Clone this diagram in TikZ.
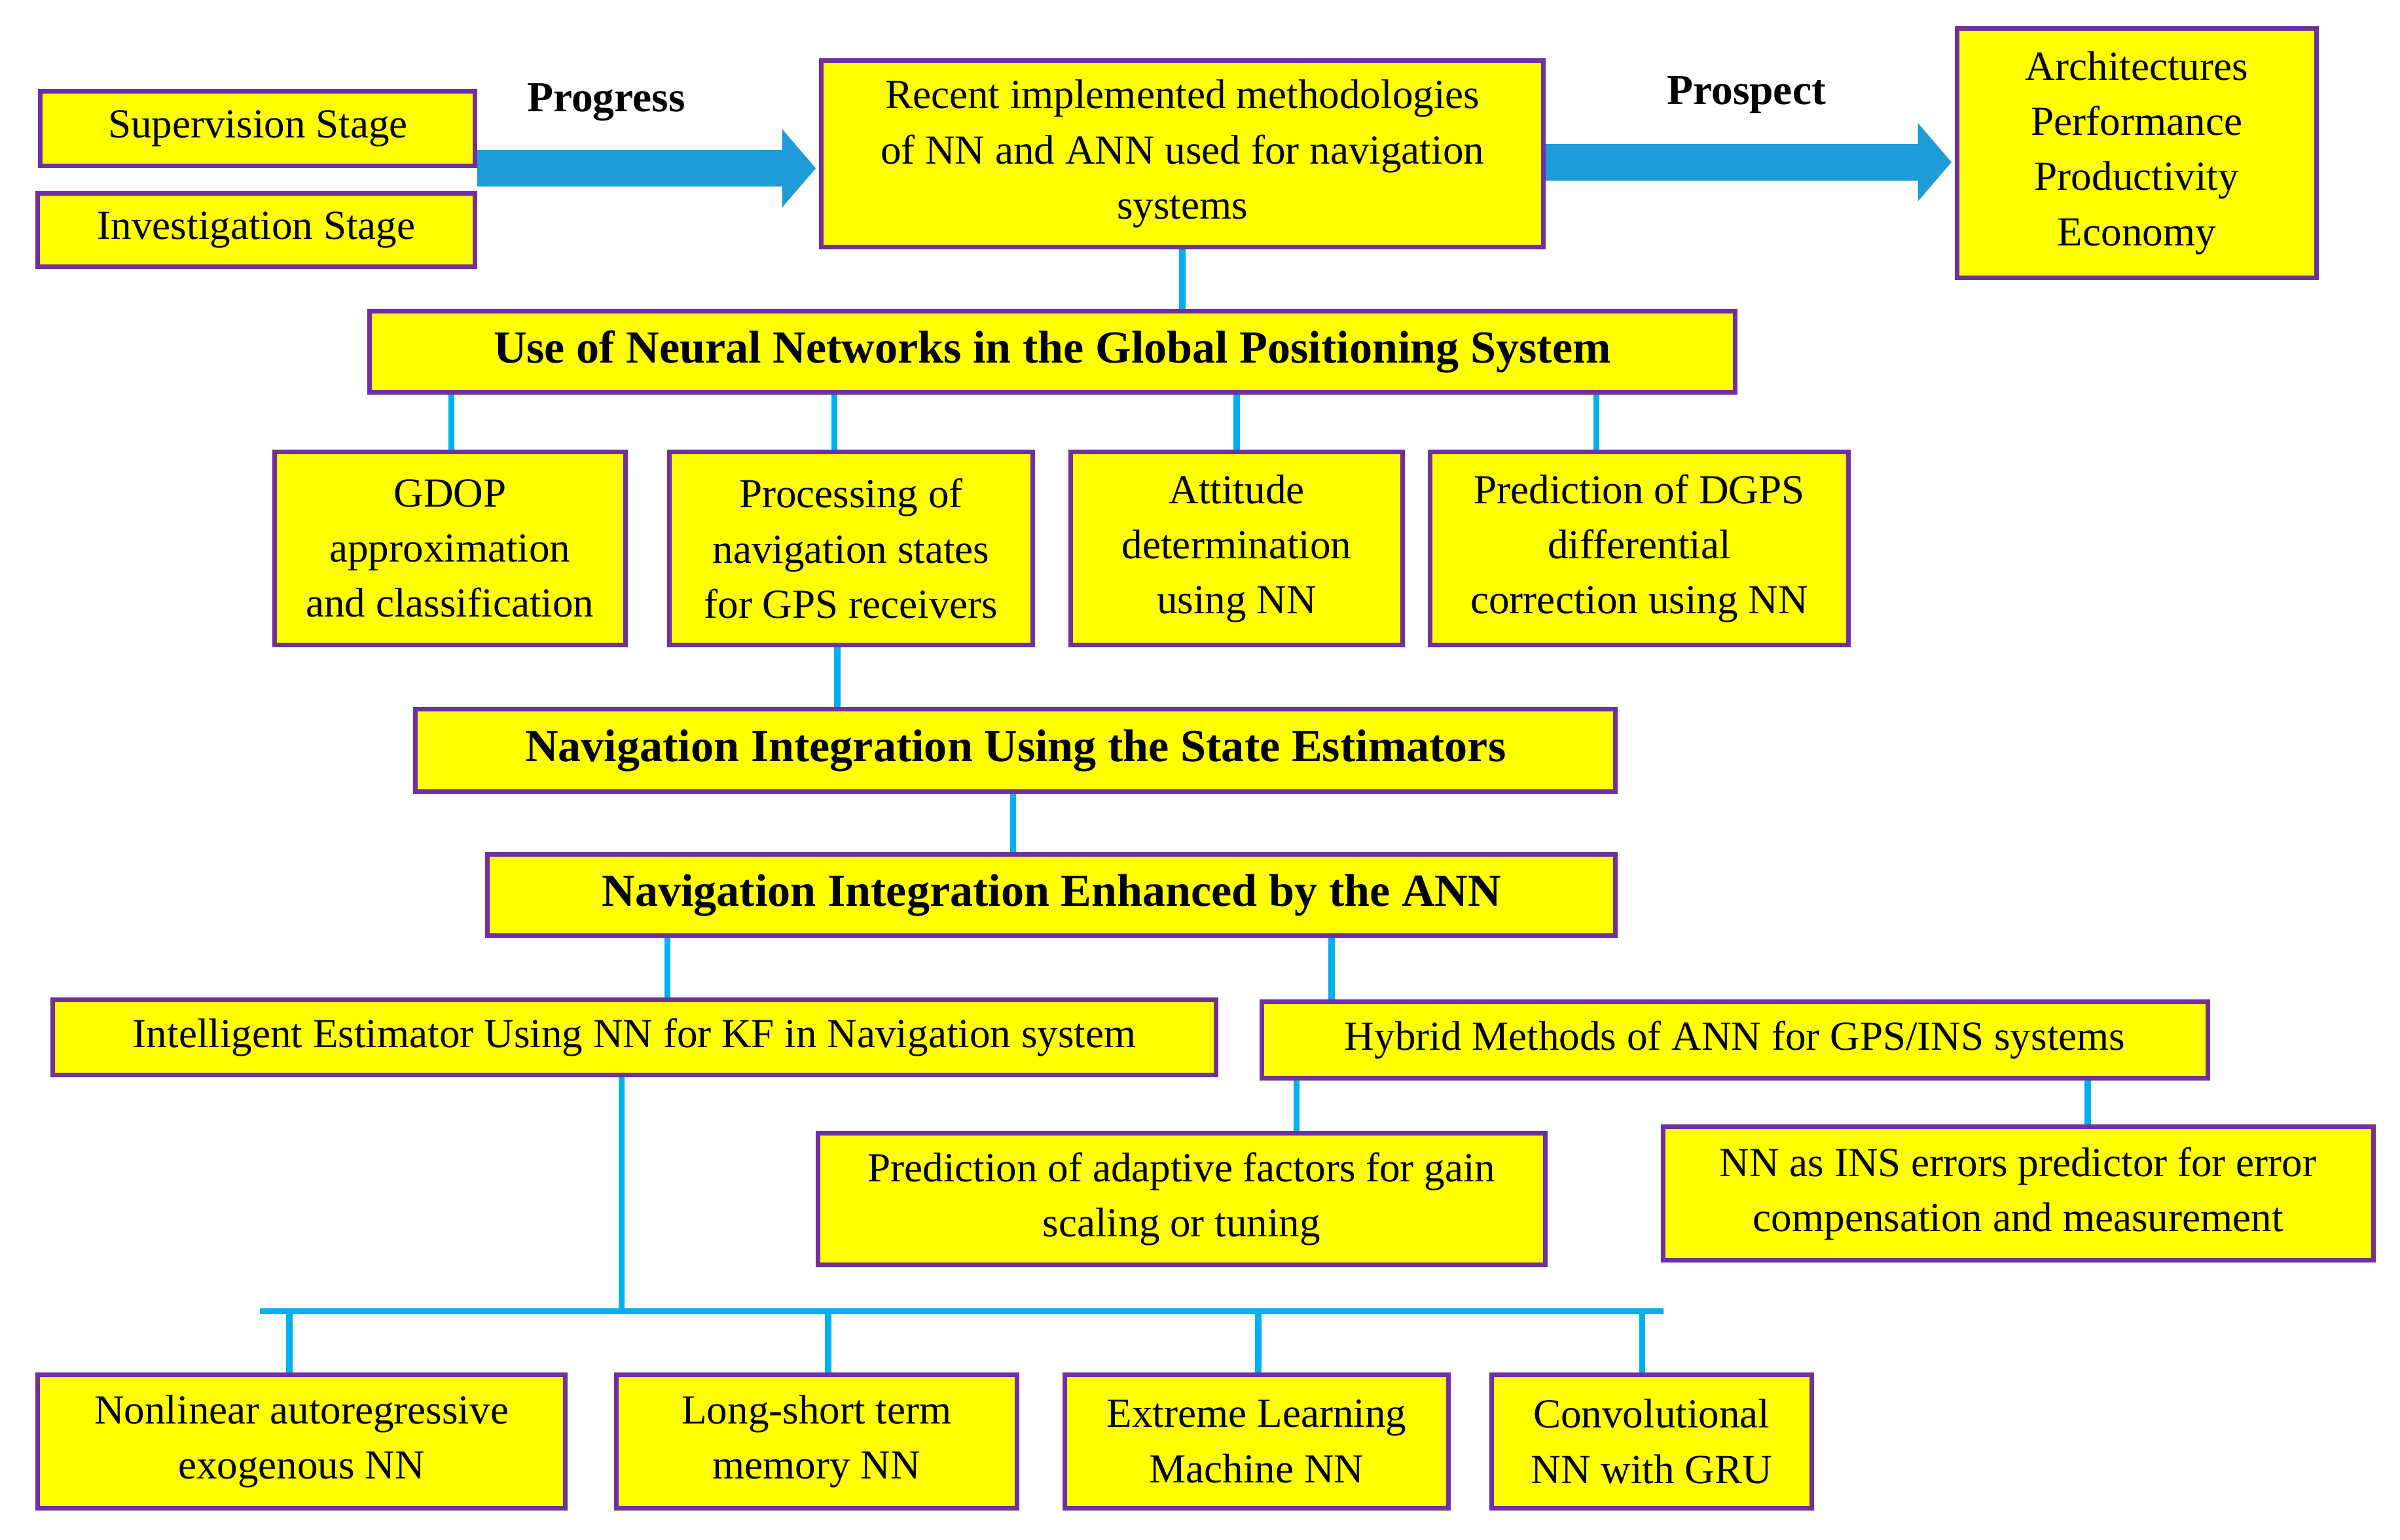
\documentclass[tikz,border=0pt]{standalone}
\usepackage{fontspec}
\setmainfont{Liberation Serif}
\usetikzlibrary{arrows.meta}
\definecolor{bx}{HTML}{FFFF00}
\definecolor{pu}{HTML}{7030A0}
\definecolor{cy}{HTML}{00B0F0}
\definecolor{ar}{HTML}{1F9BD7}
\tikzset{
 box/.style={draw=pu,fill=bx,line width=3pt,align=center,inner sep=2pt,
   font=\fontsize{27}{36}\selectfont},
 hbox/.style={box,font=\fontsize{30}{36}\selectfont\bfseries},
 con/.style={draw=cy,line width=4pt},
 bigarrow/.style={draw=ar,line width=24pt,-{Triangle[length=22pt,width=50pt]}},
 lab/.style={font=\fontsize{28}{32}\selectfont\bfseries}
}
\newcommand{\bxat}[6]{\node[#1,minimum width=#4-#2-3pt,minimum height=#5-#3-3pt] (#6) at ({(#2+#4)/2},{(#3+#5)/2})}
\begin{document}
\begin{tikzpicture}[x=1pt,y=-1pt]
\useasboundingbox (0,0) rectangle (1568,1006);
\bxat{box}{25}{58}{312}{110}{sup} {Supervision Stage};
\bxat{box}{23}{125}{312}{176}{inv} {Investigation Stage};
\bxat{box}{535}{38}{1010}{163}{rec} {Recent implemented methodologies\\of NN and ANN used for navigation\\systems};
\bxat{box}{1277}{17}{1515}{183}{arc} {Architectures\\Performance\\Productivity\\Economy};
\coordinate (pa) at (312,110);
\coordinate (pb) at (533,110);
\draw[bigarrow] (pa) -- (pb);
\node[lab] (prog) at (396,67) {Progress};
\coordinate (qa) at (1010,106);
\coordinate (qb) at (1275,106);
\draw[bigarrow] (qa) -- (qb);
\node[lab] (pros) at (1141,62) {Prospect};
\bxat{hbox}{240}{202}{1135}{258}{gps} {Use of Neural Networks in the Global Positioning System};
\bxat{box}{178}{294}{410}{423}{gd} {GDOP\\approximation\\and classification};
\bxat{box}{436}{294}{676}{423}{pr} {Processing of\\navigation states\\for GPS receivers};
\bxat{box}{698}{294}{918}{423}{at} {Attitude\\determination\\using NN};
\bxat{box}{933}{294}{1209}{423}{dg} {Prediction of DGPS\\differential\\correction using NN};
\bxat{hbox}{270}{462}{1057}{519}{se} {Navigation Integration Using the State Estimators};
\bxat{hbox}{317}{557}{1057}{613}{en} {Navigation Integration Enhanced by the ANN};
\bxat{box}{33}{652}{796}{704}{ie} {Intelligent Estimator Using NN for KF in Navigation system};
\bxat{box}{823}{653}{1444}{706}{hy} {Hybrid Methods of ANN for GPS/INS systems};
\bxat{box}{533}{739}{1011}{828}{pa2} {Prediction of adaptive factors for gain\\scaling or tuning};
\bxat{box}{1085}{735}{1552}{825}{ins} {NN as INS errors predictor for error\\compensation and measurement};
\bxat{box}{23}{897}{371}{987}{b1} {Nonlinear autoregressive\\exogenous NN};
\bxat{box}{401}{897}{666}{987}{b2} {Long-short term\\memory NN};
\bxat{box}{694}{897}{948}{987}{b3} {Extreme Learning\\Machine NN};
\bxat{box}{973}{897}{1185}{987}{b4} {Convolutional\\NN with GRU};
% connectors
\draw[con] (rec.south) -- (rec.south |- gps.north);
\foreach \x/\n in {295/gd,545/pr,808/at,1043/dg}
  \draw[con] (\x,0 |- gps.south) -- (\x,0 |- \n.north);
\draw[con] (547,0 |- pr.south) -- (547,0 |- se.north);
\draw[con] (662,0 |- se.south) -- (662,0 |- en.north);
\draw[con] (436,0 |- en.south) -- (436,0 |- ie.north);
\draw[con] (870,0 |- en.south) -- (870,0 |- hy.north);
\draw[con] (847,0 |- hy.south) -- (847,0 |- pa2.north);
\draw[con] (1364,0 |- hy.south) -- (1364,0 |- ins.north);
\coordinate (bl) at (170,857);
\coordinate (br) at (1087,857);
\draw[con] (406,0 |- ie.south) -- (406,857);
\draw[con] (bl) -- (br);
\foreach \x/\n in {189/b1,541/b2,822/b3,1073/b4}
  \draw[con] (\x,857) -- (\x,0 |- \n.north);
\end{tikzpicture}
\end{document}
